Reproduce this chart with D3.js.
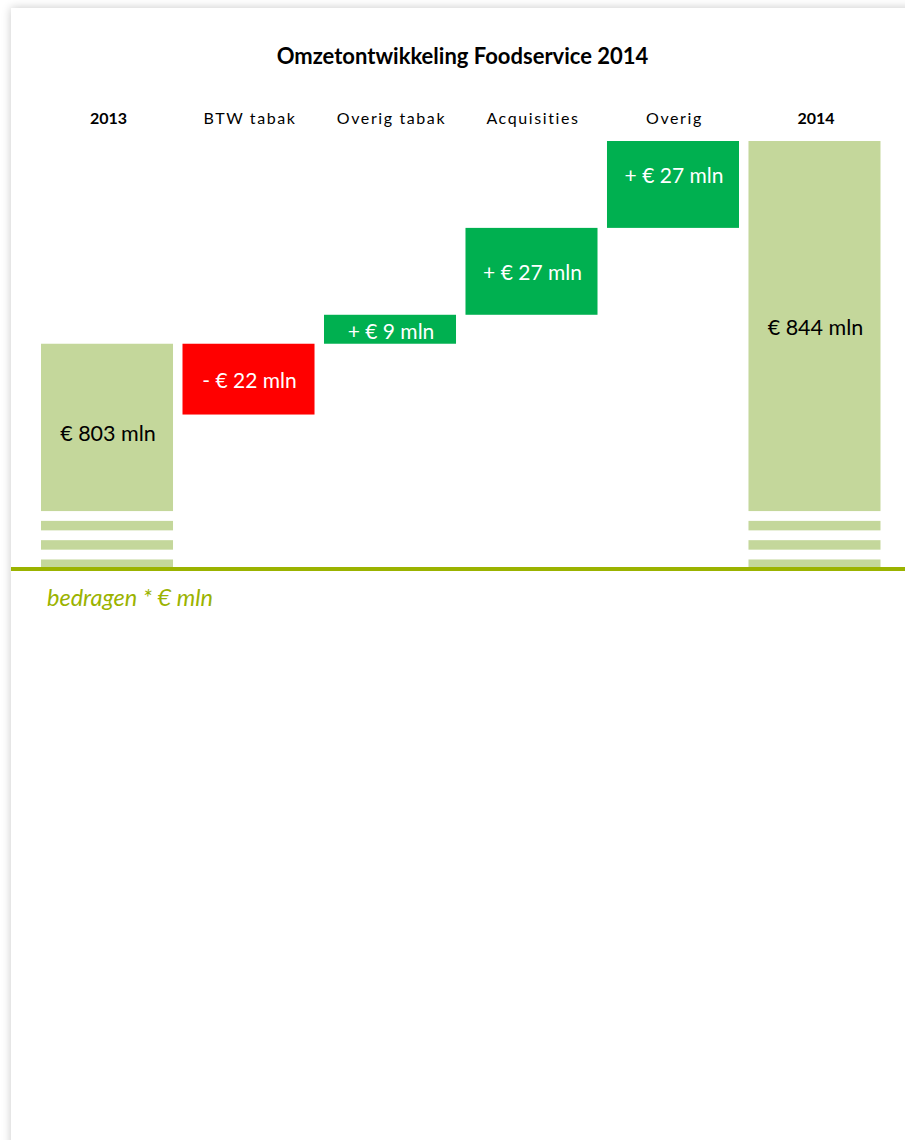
<!DOCTYPE html>
<html>
<head>
<meta charset="utf-8">
<script src="https://cdn.jsdelivr.net/npm/d3@7"></script>
<style>
  body { margin: 0; background: #fff; overflow: hidden; }
  #card {
    position: absolute; left: 11px; top: 8px; width: 1000px; height: 1300px;
    background: #fff; box-shadow: 0 0 9px rgba(0,0,0,0.22);
  }
  #chart { position: absolute; left: 0; top: 0; }
  text { font-family: Lato, "Open Sans", sans-serif; }
</style>
</head>
<body>
<div id="card"></div>
<div id="chart"></div>
<script>
// waterfall, values in mln euro
var categories = ["2013", "BTW tabak", "Overig tabak", "Acquisities", "Overig", "2014"];
var barType    = ["total", "delta", "delta", "delta", "delta", "total"];
var barFrom    = [733, 803, 803, 812, 839, 733];   // totals start at the broken axis
var barTo      = [803, 781, 812, 839, 866, 866];
var valueLabels = ["€ 803 mln", "- € 22 mln", "+ € 9 mln", "+ € 27 mln", "+ € 27 mln", "€ 844 mln"];
var breakValue = 751;   // where the axis break starts on the total bars

var title = "Omzetontwikkeling Foodservice 2014";
var footnote = "bedragen * € mln";

var width = 905, height = 1140;

var svg = d3.select("#chart")
  .append("svg")
  .attr("width", width)
  .attr("height", height);

var x = d3.scaleBand()
  .domain(categories)
  .range([36.25, 885.25])
  .paddingInner(0.067)
  .paddingOuter(0.0336);

var y = d3.scaleLinear()
  .domain([733, 866])
  .range([569, 141]);

function barColor(i) {
  if (barType[i] == "total") return "#c4d79b";
  return barTo[i] < barFrom[i] ? "#ff0000" : "#00b050";
}

var data = categories.map(function(c, i) {
  return {cat: c, i: i, from: barFrom[i], to: barTo[i], label: valueLabels[i], type: barType[i]};
});

// bars
svg.selectAll("rect.bar")
  .data(data)
  .enter()
  .append("rect")
    .attr("class", "bar")
    .attr("x", function(d) { return x(d.cat); })
    .attr("width", x.bandwidth())
    .attr("y", function(d) { return y(Math.max(d.from, d.to)); })
    .attr("height", function(d) { return Math.abs(y(d.from) - y(d.to)); })
    .style("fill", function(d) { return barColor(d.i); });

// axis break: white gaps over the total bars
var breakTop = y(breakValue);
var totals = data.filter(function(d) { return d.type == "total"; });
[0, 1, 2].forEach(function(k) {
  svg.selectAll(null)
    .data(totals)
    .enter()
    .append("rect")
      .attr("x", function(d) { return x(d.cat) - 1; })
      .attr("width", x.bandwidth() + 2)
      .attr("y", breakTop + k * 19.3)
      .attr("height", 9.8)
      .style("fill", "#fff");
});

// value labels
var labelShift = [6, 1.5, 2.5, 1.5, -9.5, 1];
var labelSize = 21;
svg.selectAll("text.value")
  .data(data)
  .enter()
  .append("text")
    .attr("class", "value")
    .attr("x", function(d) { return x(d.cat) + x.bandwidth() / 2 + 1; })
    .attr("y", function(d) {
      var top = y(Math.max(d.from, d.to));
      var bottom = d.type == "total" ? breakTop : y(Math.min(d.from, d.to));
      return (top + bottom) / 2 + labelShift[d.i] + 0.36 * labelSize;
    })
    .attr("text-anchor", "middle")
    .style("font-size", function(d) { return d.type == "total" ? "21.5px" : labelSize + "px"; })
    .style("fill", function(d) { return d.type == "total" ? "#000" : "#fff"; })
    .text(function(d) { return d.label; });

// category labels on top
svg.selectAll("text.cat")
  .data(data)
  .enter()
  .append("text")
    .attr("class", "cat")
    .attr("x", function(d) { return x(d.cat) + x.bandwidth() / 2 + 1.5; })
    .attr("y", 124)
    .attr("text-anchor", "middle")
    .style("font-size", "16px")
    .style("font-weight", function(d) { return d.type == "total" ? "bold" : "normal"; })
    .style("letter-spacing", function(d) { return d.type == "total" ? "0px" : "1.6px"; })
    .style("fill", "#000")
    .text(function(d) { return d.cat; });

// title
svg.append("text")
  .attr("x", 462.5)
  .attr("y", 64)
  .attr("text-anchor", "middle")
  .style("font-size", "22px")
  .style("font-weight", "bold")
  .text(title);

// baseline
svg.append("line")
  .attr("x1", 11)
  .attr("x2", width)
  .attr("y1", y(733))
  .attr("y2", y(733))
  .style("stroke", "#9bb300")
  .style("stroke-width", 4);

// footnote
svg.append("text")
  .attr("x", 47)
  .attr("y", 606)
  .style("font-size", "23.5px")
  .style("font-style", "italic")
  .style("fill", "#9bb300")
  .text(footnote);
</script>
</body>
</html>
